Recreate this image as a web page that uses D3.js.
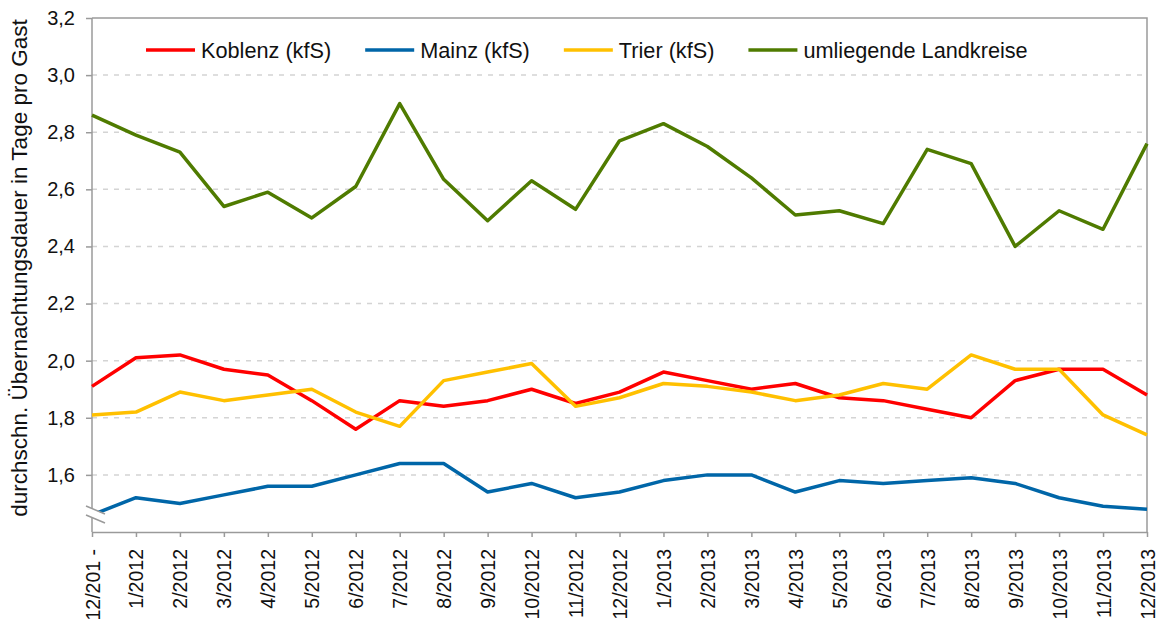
<!DOCTYPE html>
<html lang="de">
<head>
<meta charset="utf-8">
<title>Übernachtungsdauer</title>
<script src="https://d3js.org/d3.v7.min.js"></script>
<style>
body { margin: 0; background: #fff; }
svg { font-family: "Liberation Sans", Arial, sans-serif; }
</style>
</head>
<body>
<div id="chart"></div>
<script>
const months = ["12/201 -", "1/2012", "2/2012", "3/2012", "4/2012", "5/2012", "6/2012", "7/2012", "8/2012",
  "9/2012", "10/2012", "11/2012", "12/2012", "1/2013", "2/2013", "3/2013", "4/2013", "5/2013", "6/2013",
  "7/2013", "8/2013", "9/2013", "10/2013", "11/2013", "12/2013"];
const koblenz = [1.91, 2.01, 2.02, 1.97, 1.95, 1.86, 1.76, 1.86, 1.84, 1.86, 1.90, 1.85, 1.89, 1.96, 1.93,
  1.90, 1.92, 1.87, 1.86, 1.83, 1.80, 1.93, 1.97, 1.97, 1.88];
const mainz = [1.46, 1.52, 1.50, 1.53, 1.56, 1.56, 1.60, 1.64, 1.64, 1.54, 1.57, 1.52, 1.54, 1.58, 1.60,
  1.60, 1.54, 1.58, 1.57, 1.58, 1.59, 1.57, 1.52, 1.49, 1.48];
const trier = [1.81, 1.82, 1.89, 1.86, 1.88, 1.90, 1.82, 1.77, 1.93, 1.96, 1.99, 1.84, 1.87, 1.92, 1.91,
  1.89, 1.86, 1.88, 1.92, 1.90, 2.02, 1.97, 1.97, 1.81, 1.74];
const landkreise = [2.86, 2.79, 2.73, 2.54, 2.59, 2.50, 2.61, 2.90, 2.635, 2.49, 2.63, 2.53, 2.77, 2.83, 2.75,
  2.64, 2.51, 2.525, 2.48, 2.74, 2.69, 2.40, 2.525, 2.46, 2.76];
const yTicks = [1.6, 1.8, 2.0, 2.2, 2.4, 2.6, 2.8, 3.0, 3.2];
const yTitle = "durchschn. Übernachtungsdauer in Tage pro Gast";

const series = [
  {name: "Koblenz (kfS)", values: koblenz, color: "#ff0000"},
  {name: "Mainz (kfS)", values: mainz, color: "#0066a8"},
  {name: "Trier (kfS)", values: trier, color: "#ffc000"},
  {name: "umliegende Landkreise", values: landkreise, color: "#4f7b00"}
];

const width = 1159, height = 625;
const plotLeft = 92, plotRight = 1147, plotTop = 18, plotBottom = 532;
const axisColor = "#9a9a9a";

const svg = d3.select("#chart").append("svg")
  .attr("width", width)
  .attr("height", height);

const x = d3.scalePoint().domain(months).range([plotLeft, plotRight]);
const y = d3.scaleLinear().domain([1.4, 3.2]).range([plotBottom, plotTop]);

// gridlines
svg.append("g")
  .selectAll("line")
  .data(yTicks.slice(0, -1))
  .enter()
  .append("line")
  .attr("x1", plotLeft)
  .attr("x2", plotRight)
  .attr("y1", d => y(d))
  .attr("y2", d => y(d))
  .attr("stroke", "#d4d4d4")
  .attr("stroke-width", 1.5)
  .attr("stroke-dasharray", "5,6");

// frame top + right
svg.append("path")
  .attr("d", "M" + plotLeft + "," + y(3.2) + "H" + plotRight + "V" + plotBottom)
  .attr("fill", "none")
  .attr("stroke", axisColor)
  .attr("stroke-width", 1.5);

const yAxis = d3.axisLeft(y)
  .tickValues(yTicks)
  .tickSize(6)
  .tickPadding(11)
  .tickFormat(d => d3.format(".1f")(d).replace(".", ","));

const gy = svg.append("g")
  .attr("transform", "translate(" + plotLeft + ",0)")
  .call(yAxis);
gy.selectAll("text").attr("font-size", 20).attr("fill", "#111").attr("font-family", null);
gy.selectAll("line, path").attr("stroke", axisColor).attr("stroke-width", 1.5);
gy.select(".domain").attr("d", "M0," + plotTop + "V" + plotBottom);

const xAxis = d3.axisBottom(x).tickSize(5).tickSizeOuter(0);
const gx = svg.append("g")
  .attr("transform", "translate(0," + plotBottom + ")")
  .call(xAxis);
gx.selectAll("line, path").attr("stroke", axisColor).attr("stroke-width", 1.5);
gx.selectAll("text")
  .attr("font-size", 19.5)
  .attr("font-family", null)
  .attr("fill", "#111")
  .attr("text-anchor", "end")
  .attr("transform", "rotate(-90)")
  .attr("x", -17)
  .attr("y", 0)
  .attr("dy", "0.36em");

// y title
svg.append("text")
  .attr("transform", "translate(27," + 268 + ") rotate(-90)")
  .attr("text-anchor", "middle")
  .attr("font-size", 22.5)
  .attr("fill", "#111")
  .text(yTitle);

const line = d3.line()
  .x((d, i) => x(months[i]))
  .y(d => y(d));

svg.append("g")
  .selectAll("path")
  .data([series[0], series[1], series[3], series[2]])
  .enter()
  .append("path")
  .attr("d", d => line(d.values))
  .attr("fill", "none")
  .attr("stroke", d => d.color)
  .attr("stroke-width", 3.5)
  .attr("stroke-linejoin", "round");

// axis break marker
const brk = svg.append("g");
brk.append("path")
  .attr("d", "M" + (plotLeft - 6) + "," + 506 + "L" + (plotLeft + 12) + "," + 514 +
    "L" + (plotLeft + 12) + "," + 523 + "L" + (plotLeft - 6) + "," + 515 + "Z")
  .attr("fill", "#fff");
brk.append("line")
  .attr("x1", plotLeft - 6).attr("y1", 506).attr("x2", plotLeft + 13).attr("y2", 514)
  .attr("stroke", axisColor).attr("stroke-width", 1.5);
brk.append("line")
  .attr("x1", plotLeft - 6).attr("y1", 515).attr("x2", plotLeft + 13).attr("y2", 523)
  .attr("stroke", axisColor).attr("stroke-width", 1.5);

// legend
const legend = svg.append("g").attr("transform", "translate(146,50)");
let lx = 0;
series.forEach(function(s) {
  const g = legend.append("g").attr("transform", "translate(" + lx + ",0)");
  g.append("line")
    .attr("x1", 0).attr("x2", 49)
    .attr("stroke", s.color)
    .attr("stroke-width", 3.5);
  const t = g.append("text")
    .attr("x", 55)
    .attr("dy", "0.35em")
    .attr("font-size", 21.7)
    .attr("fill", "#111")
    .text(s.name);
  lx += 55 + t.node().getComputedTextLength() + 34;
});
</script>
</body>
</html>
